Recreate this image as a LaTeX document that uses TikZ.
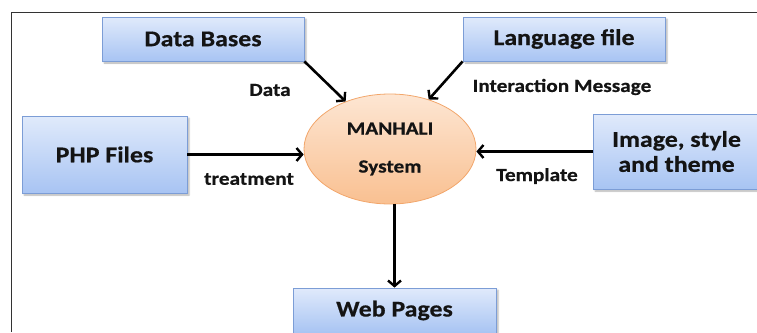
\documentclass[tikz,border=0pt]{standalone}
\usepackage{fontspec}
\newfontfamily\dfont{Carlito}[FakeStretch=1.15,FakeBold=0.6]
\usetikzlibrary{arrows.meta,shadows.blur,shapes.geometric}
\definecolor{boxtop}{HTML}{E0EAFB}
\definecolor{boxbot}{HTML}{A8C4F3}
\definecolor{boxline}{HTML}{7C9DD6}
\definecolor{elltop}{HTML}{FDE6D3}
\definecolor{ellbot}{HTML}{F9C091}
\definecolor{ellline}{HTML}{F2A66B}
\definecolor{txt}{HTML}{141414}
\tikzset{
  srcbox/.style={draw=boxline, line width=0.8pt, top color=boxtop, bottom color=boxbot,
    text=txt, font=\dfont\bfseries\fontsize{22.5}{27}\selectfont, align=center, inner sep=0pt,
    blur shadow={shadow xshift=2pt, shadow yshift=-2pt, shadow blur steps=4, shadow opacity=30}},
  core/.style={ellipse, draw=ellline, line width=0.8pt, top color=elltop, bottom color=ellbot,
    text=txt, font=\dfont\bfseries\fontsize{18.5}{21}\selectfont, align=center, inner sep=0pt,
    minimum width=172pt, minimum height=110pt},
  flowlabel/.style={text=txt, font=\dfont\bfseries\fontsize{18.5}{21}\selectfont, inner sep=0pt},
  flow/.style={line width=2.6pt, -{Straight Barb[length=5.5pt,width=13pt,line width=2.4pt]}},
  frame/.style={draw=black!80, line width=0.9pt}
}
\begin{document}
\begin{tikzpicture}[x=1pt,y=-1pt]
\useasboundingbox (0,0) rectangle (757,332);
\clip (0,0) rectangle (757,332);
% outer frame (top and left edges)
\draw[frame] (757,12) -- (11,12) -- (11,332);

% central system
\node[core] (sys) at (390,149) {MANHALI\\[17pt]System};

% sources and output
\node[srcbox, minimum width=202pt, minimum height=44pt] (db) at (203,39) {Data Bases};
\node[srcbox, minimum width=202pt, minimum height=44pt] (lang) at (564,39) {Language file};
\node[srcbox, minimum width=165pt, minimum height=77pt] (php) at (104.5,154.5) {PHP Files};
\node[srcbox, minimum width=167pt, minimum height=75pt] (img) at (676.5,151.5) {Image, style\\[-2pt]and theme};
\node[srcbox, minimum width=203pt, minimum height=45pt] (web) at (394.5,310.5) {Web Pages};

% flows
\draw[flow] (db.south east) -- (sys.133);
\draw[flow] (lang.south west) -- (sys.52);
\draw[flow] (php.east) -- (php.east -| sys.west);
\draw[flow] (img.west) -- (img.west -| sys.east);
\draw[flow] (web.north |- sys.south) -- (web.north);

% flow labels
\node[flowlabel] (ldata) at (270,90) {Data};
\node[flowlabel] (lmsg) at (562,87) {Interaction Message};
\node[flowlabel] (ltreat) at (249,179) {treatment};
\node[flowlabel] (ltpl) at (537,176) {Template};
\end{tikzpicture}
\end{document}
